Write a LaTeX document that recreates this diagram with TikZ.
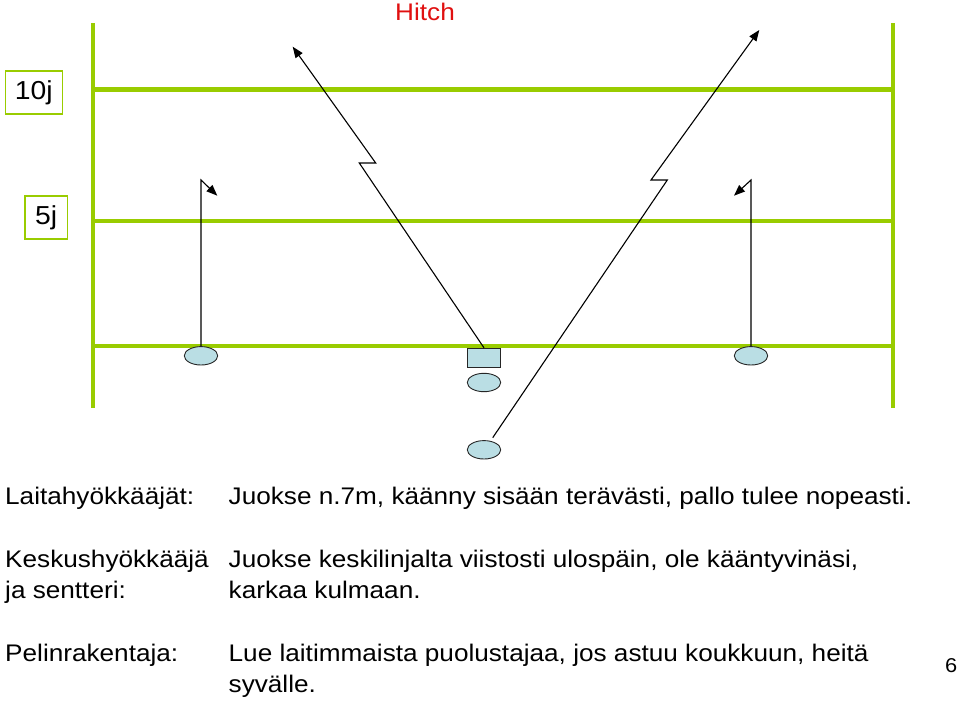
\documentclass[tikz,border=0pt]{standalone}
\usepackage{fontspec}
\setmainfont{Liberation Sans}[FakeStretch=1.09]
\usetikzlibrary{arrows.meta,shapes.geometric}
\definecolor{fieldgreen}{RGB}{153,204,0}
\definecolor{playerblue}{RGB}{186,222,228}
\definecolor{hitchred}{RGB}{224,16,16}
\tikzset{
  fieldline/.style={draw=fieldgreen,line width=4.3pt},
  yardbox/.style={draw=fieldgreen,line width=1.5pt,fill=white,minimum width=57pt,minimum height=43pt,inner sep=0pt,font=\fontsize{26}{30}\selectfont},
  player/.style={ellipse,draw=black!85,line width=0.9pt,fill=playerblue,minimum width=33.4pt,minimum height=18.4pt,inner sep=0pt},
  centre/.style={rectangle,draw=black!85,line width=0.9pt,fill=playerblue,minimum width=33.4pt,minimum height=19pt,inner sep=0pt},
  route/.style={draw=black,line width=1.1pt,-{Triangle[length=11pt,width=8.5pt]}},
  txt/.style={anchor=base west,inner sep=0pt,font=\fontsize{24}{28}\selectfont},
}
\begin{document}
\begin{tikzpicture}[x=1pt,y=-1pt]
\useasboundingbox (0,0) rectangle (960,701);
% field
\coordinate (lt) at (92.8,23.3);
\coordinate (lb) at (92.8,408.3);
\coordinate (rt) at (892.8,23.3);
\coordinate (rb) at (892.8,408.3);
\coordinate (l10) at (92.8,89.5);
\coordinate (r10) at (892.8,89.5);
\coordinate (l5) at (92.8,220.7);
\coordinate (r5) at (892.8,220.7);
\coordinate (l0) at (92.8,345.8);
\coordinate (r0) at (892.8,345.8);
\draw[fieldline] (l10) -- (r10);
\draw[fieldline] (l5) -- (r5);
\draw[fieldline] (l0) -- (r0);
\draw[fieldline] (lt) -- (lb);
\draw[fieldline] (rt) -- (rb);
% yard boxes
\node[yardbox] (b10) at (33.8,92.3) {10j};
\node[yardbox,minimum width=42.3pt] (b5) at (46.2,217.6) {5j};
% title
\node[anchor=base,inner sep=0pt,text=hitchred,font=\fontsize{24}{28}\selectfont] (title) at (425,20.7) {Hitch};
% players
\node[player] (wrl) at (201,355.8) {};
\node[player] (wrr) at (751,355.8) {};
\node[centre] (ce) at (484,357.8) {};
\node[player] (qb) at (484,382.5) {};
\node[player] (rbk) at (484,449.8) {};
% route points
\coordinate (wrlc) at (201,180);
\coordinate (wrlt) at (217.3,195.7);
\coordinate (wrrc) at (751,180);
\coordinate (wrrt) at (734,195.7);
\coordinate (cea) at (359.3,163);
\coordinate (ceb) at (375.7,163);
\coordinate (cet) at (292.7,46.7);
\coordinate (rbs) at (492.7,437.7);
\coordinate (rba) at (667.3,180);
\coordinate (rbb) at (651,180);
\coordinate (rbt) at (759.3,30);
% routes
\draw[route] (wrl.north) -- (wrlc) -- (wrlt);
\draw[route] (wrr.north) -- (wrrc) -- (wrrt);
\draw[route] (ce.north) -- (cea) -- (ceb) -- (cet);
\draw[route] (rbs) -- (rba) -- (rbb) -- (rbt);
% text
\node[txt] (h1) at (5,504) {Laitahyökkääjät:};
\node[txt] (t1) at (228.5,504) {Juokse n.7m, käänny sisään terävästi, pallo tulee nopeasti.};
\node[txt] (h2) at (5,567.5) {Keskushyökkääjä};
\node[txt] (h2b) at (5,598.5) {ja sentteri:};
\node[txt] (t2) at (228.5,567.5) {Juokse keskilinjalta viistosti ulospäin, ole kääntyvinäsi,};
\node[txt] (t2b) at (228.5,598.5) {karkaa kulmaan.};
\node[txt] (h3) at (5,661.7) {Pelinrakentaja:};
\node[txt] (t3) at (228.5,661.7) {Lue laitimmaista puolustajaa, jos astuu koukkuun, heitä};
\node[txt] (t3b) at (228.5,692.5) {syvälle.};
\node[txt,font=\fontsize{20}{24}\selectfont] (pg) at (945,672) {6};
\end{tikzpicture}
\end{document}
